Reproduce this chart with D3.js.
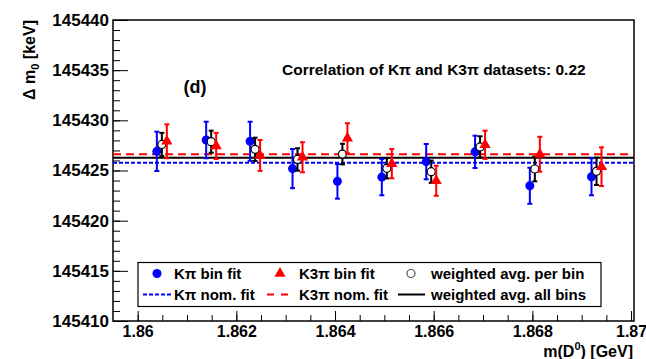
<!DOCTYPE html>
<html>
<head>
<meta charset="utf-8">
<script src="https://cdn.jsdelivr.net/npm/d3@7/dist/d3.min.js"></script>
<style>
  body { margin: 0; background: #fff; }
  svg { display: block; font-family: "Liberation Sans", Arial, Helvetica, sans-serif; }
</style>
</head>
<body>
<svg id="chart" width="646" height="359"></svg>
<script>
// Delta m0 per D0 mass bin, K pi and K3pi samples plus their weighted average

var binCenters = [1.86049, 1.86149, 1.86238, 1.86324, 1.86415, 1.86505, 1.86595, 1.86694, 1.86805, 1.86930];

var kpiVal  = [145426.91, 145428.04, 145427.91, 145425.19, 145423.92, 145424.34, 145425.88, 145426.86, 145423.48, 145424.38];
var kpiErr  = [1.96, 1.82, 1.95, 1.95, 1.73, 1.81, 1.76, 1.61, 1.80, 1.85];

var k3piVal = [145427.91, 145427.45, 145426.50, 145426.32, 145428.21, 145425.68, 145423.98, 145427.56, 145426.62, 145425.38];
var k3piErr = [1.69, 1.30, 1.54, 1.50, 1.50, 1.46, 1.50, 1.41, 1.74, 1.93];

var avgVal  = [145427.60, 145427.87, 145427.11, 145426.10, 145426.64, 145425.22, 145424.88, 145427.35, 145425.15, 145424.92];
var avgErr  = [1.15, 1.10, 1.16, 1.12, 1.03, 1.01, 1.11, 1.06, 1.23, 1.36];

var kpiNom  = 145425.78;
var k3piNom = 145426.63;
var avgAll  = 145426.28;

var xTicks = [1.86, 1.862, 1.864, 1.866, 1.868, 1.87];
var yTicks = [145410, 145415, 145420, 145425, 145430, 145435, 145440];

var svg = d3.select('#chart');
var mLeft = 113, mRight = 634, mTop = 20, mBottom = 321;

var x = d3.scaleLinear().domain([1.8595, 1.87006]).range([mLeft, mRight]);
var y = d3.scaleLinear().domain([145410, 145440]).range([mBottom, mTop]);

// frame (top and right edges carry no ticks)
svg.append('rect')
    .attr('x', mLeft).attr('y', mTop)
    .attr('width', mRight - mLeft).attr('height', mBottom - mTop)
    .attr('fill', 'none').attr('stroke', '#000').attr('stroke-width', 1.5);

// minor ticks
var xMinor = d3.range(1.8600, 1.87001, 0.0005);
var yMinor = d3.range(145410, 145440.5, 1);

svg.append('g')
    .attr('transform', 'translate(0,' + mBottom + ')')
    .call(d3.axisBottom(x).tickValues(xMinor).tickSize(-6).tickSizeOuter(0).tickFormat(''))
    .call(function(g) { g.select('.domain').remove(); });

svg.append('g')
    .attr('transform', 'translate(' + mLeft + ',0)')
    .call(d3.axisLeft(y).tickValues(yMinor).tickSize(-7).tickSizeOuter(0).tickFormat(''))
    .call(function(g) { g.select('.domain').remove(); });

// major ticks with labels
var xAxis = svg.append('g')
    .attr('transform', 'translate(0,' + mBottom + ')')
    .call(d3.axisBottom(x).tickValues(xTicks).tickSize(-10).tickSizeOuter(0).tickPadding(5)
        .tickFormat(d3.format('~g')));
xAxis.select('.domain').remove();
xAxis.selectAll('text')
    .attr('font-size', 16).attr('font-weight', 'bold').attr('fill', '#000')
    .attr('font-family', '"Liberation Sans", Arial, sans-serif');

var yAxis = svg.append('g')
    .attr('transform', 'translate(' + mLeft + ',0)')
    .call(d3.axisLeft(y).tickValues(yTicks).tickSize(-15).tickSizeOuter(0).tickPadding(4)
        .tickFormat(d3.format('d')));
yAxis.select('.domain').remove();
yAxis.selectAll('text')
    .attr('font-size', 17).attr('font-weight', 'bold').attr('fill', '#000')
    .attr('font-family', '"Liberation Sans", Arial, sans-serif');

// axis titles
var xt = svg.append('text')
    .attr('x', 633).attr('y', 357)
    .attr('text-anchor', 'end')
    .attr('font-size', 16).attr('font-weight', 'bold');
xt.append('tspan').text('m(D');
xt.append('tspan').attr('font-size', 11).attr('dy', -7).text('0');
xt.append('tspan').attr('dy', 7).text(') [GeV]');

var yt = svg.append('text')
    .attr('transform', 'translate(35,20) rotate(-90)')
    .attr('text-anchor', 'end')
    .attr('font-size', 16).attr('font-weight', 'bold');
yt.append('tspan').text('\u0394 m');
yt.append('tspan').attr('font-size', 11).attr('dy', 4).text('0');
yt.append('tspan').attr('dy', -4).text(' [keV]');

// labels inside the frame
svg.append('text')
    .attr('x', 195).attr('y', 93)
    .attr('text-anchor', 'middle')
    .attr('font-size', 18).attr('font-weight', 'bold')
    .text('(d)');

svg.append('text')
    .attr('x', 282).attr('y', 75)
    .attr('font-size', 15.5).attr('font-weight', 'bold')
    .text('Correlation of K\u03c0 and K3\u03c0 datasets: 0.22');

// horizontal nominal fit lines
var plot = svg.append('g');

function hline(v, color, dash) {
    plot.append('line')
        .attr('x1', mLeft).attr('x2', mRight)
        .attr('y1', y(v)).attr('y2', y(v))
        .attr('stroke', color).attr('stroke-width', 2)
        .attr('stroke-dasharray', dash);
}
hline(avgAll, '#000', null);
hline(k3piNom, '#ff0000', '8,5');
hline(kpiNom, '#0000ff', '4,2');

// error bars with end caps
function errBars(vals, errs, dx, color) {
    var g = plot.append('g').attr('stroke', color).attr('stroke-width', 2);
    binCenters.forEach(function(c, i) {
        var px = x(c) + dx;
        var y1 = y(vals[i] + errs[i]), y2 = y(vals[i] - errs[i]);
        g.append('line').attr('x1', px).attr('x2', px).attr('y1', y1).attr('y2', y2);
        g.append('line').attr('x1', px - 2.5).attr('x2', px + 2.5).attr('y1', y1).attr('y2', y1);
        g.append('line').attr('x1', px - 2.5).attr('x2', px + 2.5).attr('y1', y2).attr('y2', y2);
    });
}

var tri = d3.symbol().type(d3.symbolTriangle).size(55);

errBars(kpiVal, kpiErr, -5, '#0000ff');
plot.selectAll('circle.kpi')
    .data(binCenters)
    .join('circle')
    .attr('class', 'kpi')
    .attr('cx', function(d) { return x(d) - 5; })
    .attr('cy', function(d, i) { return y(kpiVal[i]); })
    .attr('r', 4.5)
    .attr('fill', '#0000ff');

errBars(avgVal, avgErr, 0, '#000');
plot.selectAll('circle.avg')
    .data(binCenters)
    .join('circle')
    .attr('class', 'avg')
    .attr('cx', function(d) { return x(d); })
    .attr('cy', function(d, i) { return y(avgVal[i]); })
    .attr('r', 4)
    .attr('fill', '#fff')
    .attr('stroke', '#000')
    .attr('stroke-width', 1.2);

errBars(k3piVal, k3piErr, 5, '#ff0000');
plot.selectAll('path.k3pi')
    .data(binCenters)
    .join('path')
    .attr('class', 'k3pi')
    .attr('d', tri)
    .attr('transform', function(d, i) { return 'translate(' + (x(d) + 5) + ',' + y(k3piVal[i]) + ')'; })
    .attr('fill', '#ff0000');

// legend
var lg = svg.append('g');
lg.append('rect')
    .attr('x', 138).attr('y', 262.5).attr('width', 463).attr('height', 44)
    .attr('fill', '#fff').attr('stroke', '#000').attr('stroke-width', 1.2);

var r1 = 273.5, r2 = 294.5;
lg.append('circle').attr('cx', 157).attr('cy', r1).attr('r', 4.5).attr('fill', '#0000ff');
lg.append('path').attr('d', tri).attr('transform', 'translate(280,' + r1 + ')').attr('fill', '#ff0000');
lg.append('circle').attr('cx', 411).attr('cy', r1).attr('r', 4).attr('fill', '#fff')
    .attr('stroke', '#555').attr('stroke-width', 1.2);

lg.append('line').attr('x1', 143).attr('x2', 172).attr('y1', r2).attr('y2', r2)
    .attr('stroke', '#0000ff').attr('stroke-width', 2).attr('stroke-dasharray', '4,2');
lg.append('line').attr('x1', 267).attr('x2', 291).attr('y1', r2).attr('y2', r2)
    .attr('stroke', '#ff0000').attr('stroke-width', 2).attr('stroke-dasharray', '7,7');
lg.append('line').attr('x1', 398).attr('x2', 425).attr('y1', r2).attr('y2', r2)
    .attr('stroke', '#000').attr('stroke-width', 2);

var legendText = [
    [174, r1, 'K\u03c0 bin fit'],
    [299, r1, 'K3\u03c0 bin fit'],
    [431, r1, 'weighted avg. per bin'],
    [174, r2, 'K\u03c0 nom. fit'],
    [299, r2, 'K3\u03c0 nom. fit'],
    [431, r2, 'weighted avg. all bins']
];
lg.selectAll('text.lt')
    .data(legendText)
    .join('text')
    .attr('class', 'lt')
    .attr('x', function(d) { return d[0]; })
    .attr('y', function(d) { return d[1]; })
    .attr('dy', '0.36em')
    .attr('font-size', 15).attr('font-weight', 'bold')
    .text(function(d) { return d[2]; });
</script>
</body>
</html>
